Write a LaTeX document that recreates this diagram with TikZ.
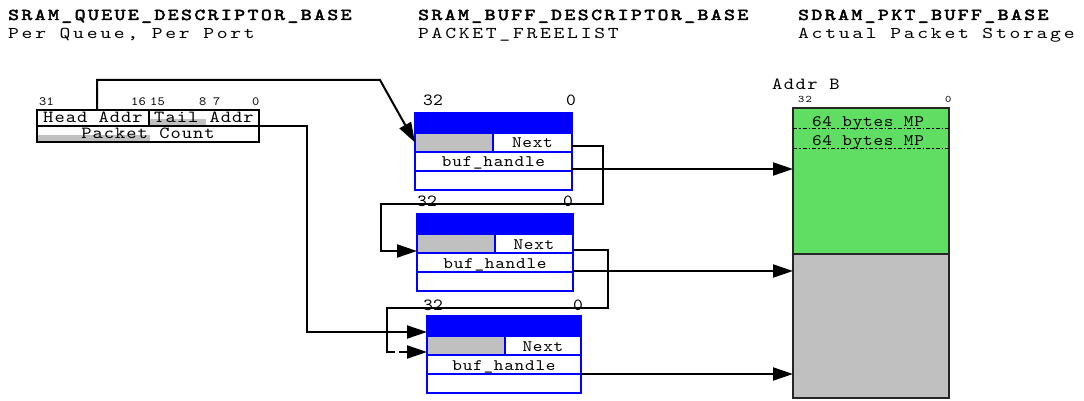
\documentclass[tikz,border=0pt]{standalone}
\usepackage{fontspec}
\usetikzlibrary{arrows.meta,calc}

% Courier-like slab mono, widened and spaced out in several widths
\newfontfamily\titlefont{lmmono10-regular.otf}[FakeStretch=1.25,FakeBold=3,LetterSpace=15]
\newfontfamily\subfont{lmmono10-regular.otf}[FakeStretch=1.25,LetterSpace=16.5]
\newfontfamily\lblfont{lmmono10-regular.otf}[FakeStretch=1.15,LetterSpace=4.5]
\newfontfamily\qfont{lmmono10-regular.otf}[FakeStretch=1.15,LetterSpace=6]
\newfontfamily\numfont{lmmono10-regular.otf}[FakeStretch=1.1,LetterSpace=1]
\newfontfamily\addrfont{lmmono10-regular.otf}[FakeStretch=1.15,LetterSpace=8.5]
\newfontfamily\bitfont{lmmono10-regular.otf}[FakeStretch=1.1,LetterSpace=2.5]
\newfontfamily\tinyfont{lmmono10-regular.otf}[FakeStretch=1.2,LetterSpace=12]

\definecolor{cellblue}{RGB}{0,0,255}
\definecolor{cellgray}{RGB}{192,192,192}
\definecolor{memgreen}{RGB}{96,222,100}

\tikzset{
  title/.style={anchor=base west, inner sep=0pt, font=\titlefont\fontsize{16.5}{18}\selectfont},
  subtitle/.style={anchor=base west, inner sep=0pt, font=\subfont\fontsize{16.5}{18}\selectfont},
  qcell/.style={draw=black, line width=2pt, anchor=north west, inner sep=0pt, outer sep=0pt,
    minimum height=16pt, text height=11pt, text depth=1pt, font=\qfont\fontsize{17}{18}\selectfont},
  bitnum/.style={anchor=base west, inner sep=0pt, font=\bitfont\fontsize{12.5}{14}\selectfont},
  bhead/.style={draw=cellblue, fill=cellblue, line width=2pt, anchor=north west, inner sep=0pt,
    outer sep=0pt, minimum height=20pt},
  bgray/.style={draw=cellblue, fill=cellgray, line width=2pt, anchor=north west, inner sep=0pt,
    outer sep=0pt, minimum height=19pt},
  bcell/.style={draw=cellblue, fill=white, line width=2pt, anchor=north west, inner sep=0pt,
    outer sep=0pt, minimum height=19pt, text height=11pt, text depth=0pt,
    font=\lblfont\fontsize{16}{18}\selectfont},
  boxnum/.style={anchor=base west, inner sep=0pt, font=\numfont\fontsize{17}{18}\selectfont},
  memcell/.style={draw=black!85, line width=1.6pt, anchor=north west, inner sep=0pt, outer sep=0pt,
    minimum width=156pt},
  mpline/.style={line width=1.3pt, dash pattern=on 4pt off 2pt on 1.5pt off 2pt},
  mptext/.style={anchor=base, inner sep=0pt, font=\lblfont\fontsize{16}{18}\selectfont},
  conn/.style={line width=2pt, -{Triangle[length=20pt,width=13pt]}},
  wire/.style={line width=2pt},
}

% one buffer descriptor: name, left, top, width
\newcommand\bufbox[4]{%
  \node[bhead, minimum width=#4] (#1-head) at (#2,#3) {};
  \node[bgray, minimum width=78pt] (#1-gray) at (#1-head.south west) {};
  \node[bcell, minimum width=#4-78] (#1-next) at (#1-gray.north east) {Next};
  \node[bcell, minimum width=#4] (#1-buf) at (#1-gray.south west) {buf\_handle};
  \node[bcell, minimum width=#4] (#1-end) at (#1-buf.south west) {};
}

\begin{document}
\begin{tikzpicture}[x=1pt,y=-1pt]
\useasboundingbox (0,0) rectangle (1084,401);

% column titles
\node[title] (t1) at (8,20) {SRAM\_QUEUE\_DESCRIPTOR\_BASE};
\node[subtitle] (s1) at (8,39) {Per Queue, Per Port};
\node[title] (t2) at (418,20) {SRAM\_BUFF\_DESCRIPTOR\_BASE};
\node[subtitle] (s2) at (418,39) {PACKET\_FREELIST};
\node[title] (t3) at (798,20) {SDRAM\_PKT\_BUFF\_BASE};
\node[subtitle] (s3) at (798,39) {Actual Packet Storage};

% queue descriptor
\fill[cellgray] (149,119.5) rectangle (206,125);
\fill[cellgray] (37.5,135.5) rectangle (150,141);
\node[qcell, minimum width=112pt] (q-head) at (37,110) {Head Addr};
\node[qcell, minimum width=110pt] (q-tail) at (q-head.north east) {Tail Addr};
\node[qcell, minimum width=222pt] (q-count) at (q-head.south west) {Packet Count};
\node[bitnum] (bit31) at (39,106) {31};
\node[bitnum] (bit16) at (131,106) {16};
\node[bitnum] (bit15) at (150,106) {15};
\node[bitnum] (bit8) at (199,106) {8};
\node[bitnum] (bit7) at (213,106) {7};
\node[bitnum] (bit0) at (252,106) {0};

% buffer descriptors of the free list
\bufbox{b1}{415}{113}{157}
\bufbox{b2}{417}{214}{156}
\bufbox{b3}{427}{316}{154}
\node[boxnum] (b1-hi) at (423,106) {32};
\node[boxnum] (b1-lo) at (566,106) {0};
\node[boxnum] (b2-hi) at (417,206) {32};
\node[boxnum] (b2-lo) at (563,206) {0};
\node[boxnum] (b3-hi) at (423,310) {32};
\node[boxnum] (b3-lo) at (573,310) {0};

% packet memory
\node[memcell, fill=memgreen, minimum height=146pt] (mem-top) at (793,108) {};
\node[memcell, fill=cellgray, minimum height=144pt] (mem-bot) at (mem-top.south west) {};
\draw[mpline] ($(mem-top.north west)+(0,20.5)$) -- ++(156,0);
\draw[mpline] ($(mem-top.north west)+(0,40.5)$) -- ++(156,0);
\node[mptext] (mp1) at (868,127) {64 bytes MP};
\node[mptext] (mp2) at (868,146) {64 bytes MP};
\node[anchor=base west, inner sep=0pt, font=\addrfont\fontsize{17}{18}\selectfont] (addrb) at (772,90) {Addr B};
\node[anchor=base west, inner sep=0pt, font=\tinyfont\fontsize{10}{12}\selectfont] (mem-hi) at (798,103) {32};
\node[anchor=base west, inner sep=0pt, font=\tinyfont\fontsize{10}{12}\selectfont] (mem-lo) at (945,103) {0};

% head and tail pointers
\coordinate (qtop) at ($(q-head.north west)+(60,0)$);
\draw[conn] (qtop) -- ++(0,-30) -- ++(283,0) -- (b1-gray.west);
\draw[conn] (q-tail.south east) -- ++(48,0) |- ($(b3-head.south west)+(0,-4)$);

% next links
\draw[conn] ($(b1-next.east)+(0,4)$) -- ++(31,0) |- ($(b2-head.north west)+(-36,-10)$)
  |- ($(b2-gray.south west)+(0,-2)$);
\draw[wire] ($(b2-next.east)+(0,6)$) -- ++(35,0) |- ($(b3-head.north west)+(-40,-8)$)
  |- ($(b3-gray.south west)+(-32,-3)$);
\draw[conn] ($(b3-gray.south west)+(-28,-3)$) -- ($(b3-gray.south west)+(0,-3)$);

% buffer handles into packet memory
\draw[conn] ($(b1-buf.south east)+(0,-2)$) coordinate (o1) -- (o1 -| mem-top.west);
\draw[conn] ($(b2-buf.south east)+(0,-1)$) coordinate (o2) -- (o2 -| mem-bot.west);
\draw[conn] (b3-buf.south east) coordinate (o3) -- (o3 -| mem-bot.west);
\end{tikzpicture}
\end{document}
